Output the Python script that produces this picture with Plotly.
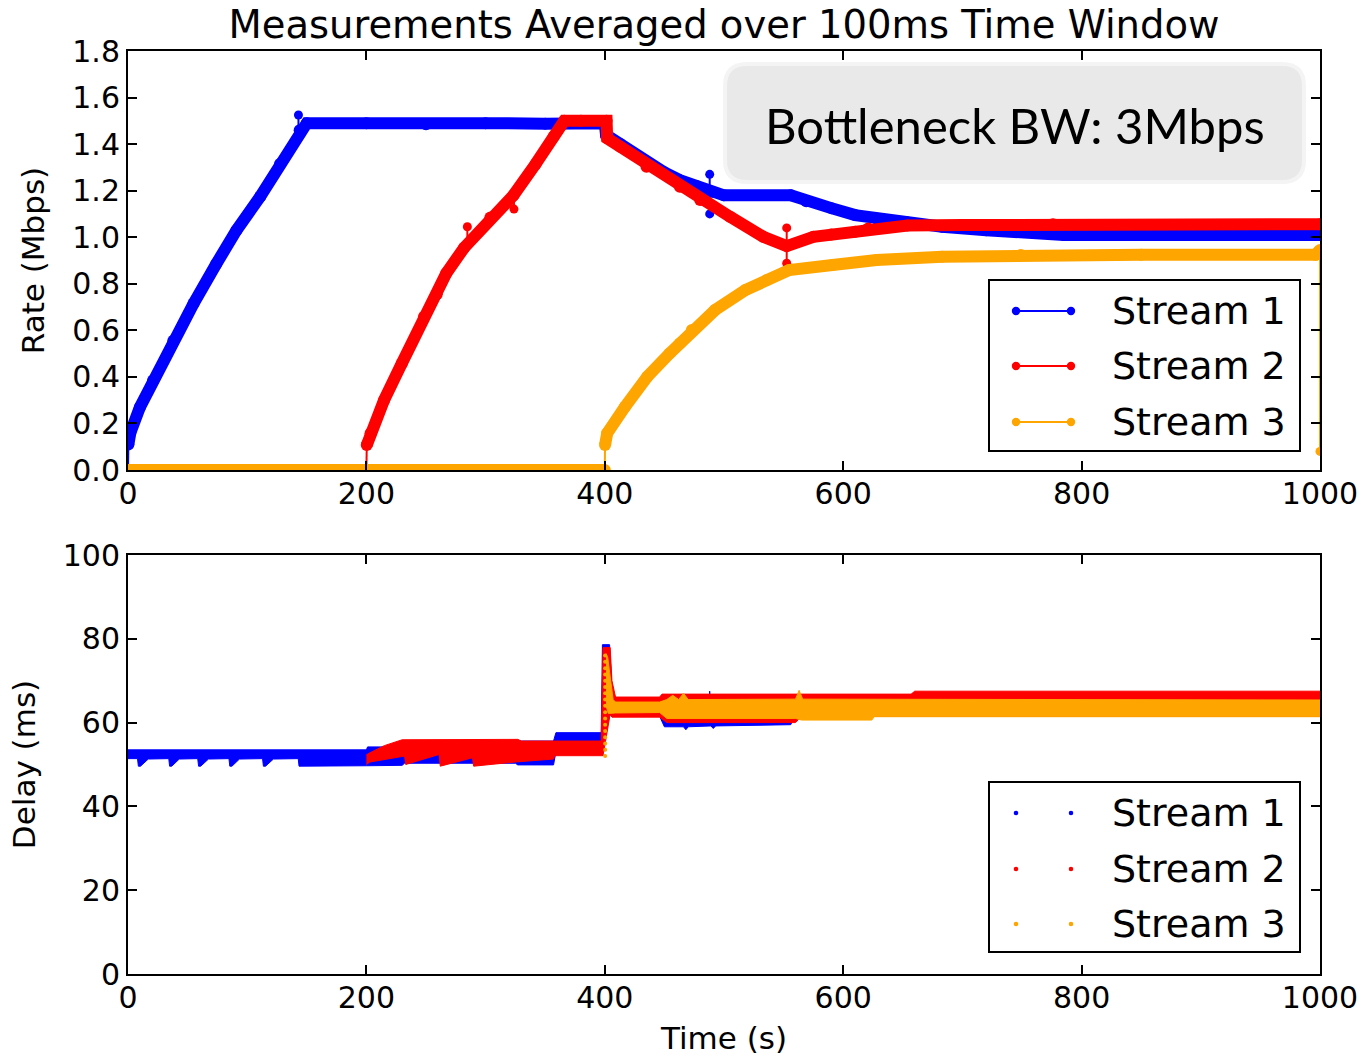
import plotly.graph_objects as go

# ---------------------------------------------------------------- data
BLUE, RED, ORANGE = "#0000ff", "#ff0000", "#ffa500"
STREAM_NAMES = ["Stream 1", "Stream 2", "Stream 3"]

X_TICKS = [0, 200, 400, 600, 800, 1000]
RATE_TICKS = [0.0, 0.2, 0.4, 0.6, 0.8, 1.0, 1.2, 1.4, 1.6, 1.8]
DELAY_TICKS = [0, 20, 40, 60, 80, 100]

# Rate (Mbps), 100 ms averages
S1_T = [0.3, 2, 10, 21, 38, 55, 74, 91, 111, 127.5, 144, 150, 200, 250, 300, 350,
        400, 401, 413, 435, 449.5, 463, 477, 490, 500, 556, 569, 590, 610, 628,
        653, 683, 720, 775, 785, 1000]
S1_RATE = [0.11, 0.16, 0.27, 0.385, 0.555, 0.715, 0.885, 1.03, 1.175, 1.315, 1.46,
           1.49, 1.49, 1.485, 1.49, 1.488, 1.49, 1.44, 1.40, 1.32, 1.28, 1.245,
           1.22, 1.195, 1.18, 1.18, 1.155, 1.125, 1.095, 1.08, 1.065, 1.045, 1.03,
           1.018, 1.01, 1.01]
S1_START_T = [0, 0.3]
S1_START_RATE = [0.0, 0.11]
S1_SPIKE_T = [143, 488, 488]
S1_SPIKE_BASE = [1.46, 1.20, 1.20]
S1_SPIKE_TIP = [1.525, 1.27, 1.10]

S2_ZERO_T = [0, 200]
S2_ZERO_RATE = [0.0, 0.0]
S2_START_T = [200, 200.3]
S2_START_RATE = [0.0, 0.107]
S2_T = [200.3, 203.5, 214.8, 229.7, 248.3, 259, 267, 282, 304, 323.3, 342, 357,
        366, 380, 401.5, 402, 413, 435, 463, 480, 505, 533, 552.6, 575, 590, 610,
        621, 654, 700, 776, 1000]
S2_RATE = [0.107, 0.158, 0.30, 0.458, 0.658, 0.755, 0.845, 0.955, 1.085, 1.18,
           1.315, 1.432, 1.50, 1.50, 1.50, 1.425, 1.389, 1.303, 1.217, 1.16,
           1.088, 1.002, 0.962, 1.002, 1.012, 1.024, 1.038, 1.05, 1.052, 1.056,
           1.056]
S2_SPIKE_T = [284.7, 323.8, 552.6, 552.6]
S2_SPIKE_BASE = [0.965, 1.18, 0.962, 0.962]
S2_SPIKE_TIP = [1.045, 1.121, 1.04, 0.888]

S3_ZERO_T = [0, 400]
S3_ZERO_RATE = [0.0, 0.0]
S3_START_T = [400, 400.2]
S3_START_RATE = [0.0, 0.107]
S3_T = [400.2, 402, 417, 435.7, 454.4, 463, 473, 492.5, 518, 536, 554.6, 591,
        628, 683, 749, 850, 996, 1000]
S3_RATE = [0.107, 0.158, 0.272, 0.401, 0.501, 0.544, 0.601, 0.687, 0.773, 0.816,
           0.859, 0.881, 0.902, 0.916, 0.924, 0.925, 0.925, 0.945]
S3_END_T = [1000, 1000]
S3_END_RATE = [0.945, 0.08]

# Delay (ms): upper / lower envelope of the per-packet delay cloud
S1_DU_T = [0, 200, 201, 230, 232, 325, 327, 357, 359, 397, 398, 404, 406, 409,
           487, 488, 489, 1000]
S1_DU = [53.5, 53.5, 54.2, 54.2, 53.5, 53.5, 55.6, 55.6, 57.6, 57.6, 78.6, 78.6,
         68.0, 63.5, 63.5, 67.5, 63.5, 63.5]
S1_DL_T = [0, 8, 8.7, 10.5, 17, 34.2, 34.9, 36.7, 43, 58.5, 59.2, 61, 67.5, 84.7,
           85.4, 87.2, 93.5, 112.9, 113.6, 115.4, 122, 142.8, 143.5, 145, 200, 230,
           232, 325, 327, 357, 359, 397, 398, 404, 406, 409, 446, 450, 466, 468,
           470, 489, 491, 493, 556, 560, 1000]
S1_DL = [51.4, 51.4, 49.6, 49.6, 51.3, 51.4, 49.6, 49.6, 51.3, 51.4, 49.6, 49.6,
         51.3, 51.4, 49.6, 49.6, 51.3, 51.4, 49.6, 49.6, 51.3, 51.4, 49.6, 49.6,
         49.7, 49.8, 50.3, 50.3, 49.9, 49.9, 53.0, 53.0, 54.0, 62.0, 61.5, 61.5,
         61.5, 59.0, 59.0, 58.3, 59.0, 59.2, 58.6, 59.2, 59.5, 62.0, 62.0]

S2_DU_T = [200, 203, 215, 230, 327, 330, 397, 398.5, 404.5, 406, 409, 446, 448,
           657, 660, 1000]
S2_DU = [52.3, 52.8, 54.5, 55.9, 56.0, 55.6, 55.6, 77.9, 77.9, 70.0, 66.1, 66.1,
         66.8, 66.8, 67.5, 67.5]
S2_DL_T = [200, 203, 232, 233, 261, 262, 289, 290, 325, 357, 358, 397, 398.5,
           404.5, 406, 446, 452, 560, 565, 1000]
S2_DL = [50.0, 50.6, 52.0, 50.0, 52.4, 49.6, 51.6, 49.6, 50.6, 51.3, 52.1, 52.1,
         52.1, 62.0, 61.3, 61.3, 60.0, 60.0, 61.5, 61.5]

S3_DU_T = [401, 402.5, 404, 405.5, 407, 409, 446, 452, 457, 462, 466, 470, 560,
           563, 566, 1000]
S3_DU = [76.5, 75.5, 72.0, 68.0, 65.5, 64.9, 64.9, 65.5, 66.5, 65.5, 67.0, 65.5,
         65.6, 67.7, 65.6, 65.4]
S3_DL_T = [401, 403, 409, 446, 452, 560, 565, 624, 626, 1000]
S3_DL = [64.0, 62.2, 62.3, 62.4, 61.0, 61.0, 60.6, 60.6, 61.4, 61.4]
# first packets of stream 3 arriving during the queue build-up
S3_BURST_T = [400.3] * 17
S3_BURST_D = [52.0, 53.5, 55.0, 56.5, 58.0, 59.5, 61.0, 62.5, 64.0, 65.5, 67.0,
              68.5, 70.0, 71.5, 73.0, 74.5, 76.0]

# ---------------------------------------------------------------- layout geometry
FIG_W, FIG_H = 1365, 1056
M_L, M_R, M_T, M_B = 128, 45, 51, 82
PLOT_W = FIG_W - M_L - M_R
PLOT_H = FIG_H - M_T - M_B


def px_x(px):
    return (px - M_L) / PLOT_W


def px_y(py):
    return (FIG_H - M_B - py) / PLOT_H


FONT = "DejaVu Sans"
BAND_W = 12

fig = go.Figure()


def rate_band(t, r, color):
    fig.add_trace(go.Scatter(x=t, y=r, mode="lines+markers", xaxis="x", yaxis="y",
                             line=dict(color=color, width=BAND_W),
                             marker=dict(color=color, size=BAND_W, opacity=1,
                                         line=dict(width=0)),
                             showlegend=False, hoverinfo="skip"))


def rate_thin(t, r, color, tip=True):
    fig.add_trace(go.Scatter(x=t, y=r, mode="lines", xaxis="x", yaxis="y",
                             line=dict(color=color, width=2),
                             showlegend=False, hoverinfo="skip"))
    if tip:
        fig.add_trace(go.Scatter(x=[t[-1]], y=[r[-1]], mode="markers", xaxis="x",
                                 yaxis="y",
                                 marker=dict(color=color, size=9, opacity=1,
                                             line=dict(width=0)),
                                 showlegend=False, hoverinfo="skip"))


def rate_spikes(ts, bases, tips, color):
    for t, b, p in zip(ts, bases, tips):
        rate_thin([t, t], [b, p], color)


# Stream 1
rate_thin(S1_START_T, S1_START_RATE, BLUE, tip=False)
rate_band(S1_T, S1_RATE, BLUE)
rate_spikes(S1_SPIKE_T, S1_SPIKE_BASE, S1_SPIKE_TIP, BLUE)
# Stream 2
rate_band(S2_ZERO_T, S2_ZERO_RATE, RED)
rate_thin(S2_START_T, S2_START_RATE, RED)
rate_band(S2_T, S2_RATE, RED)
rate_spikes(S2_SPIKE_T, S2_SPIKE_BASE, S2_SPIKE_TIP, RED)
# Stream 3
rate_band(S3_ZERO_T, S3_ZERO_RATE, ORANGE)
rate_thin(S3_START_T, S3_START_RATE, ORANGE)
rate_band(S3_T, S3_RATE, ORANGE)
rate_thin(S3_END_T, S3_END_RATE, ORANGE)


def delay_cloud(tu, du, tl, dl, color):
    fig.add_trace(go.Scatter(x=list(tu) + list(tl)[::-1], y=list(du) + list(dl)[::-1],
                             mode="lines", fill="toself", fillcolor=color,
                             line=dict(color=color, width=1),
                             xaxis="x2", yaxis="y2", showlegend=False,
                             hoverinfo="skip"))


delay_cloud(S1_DU_T, S1_DU, S1_DL_T, S1_DL, BLUE)
delay_cloud(S2_DU_T, S2_DU, S2_DL_T, S2_DL, RED)
delay_cloud(S3_DU_T, S3_DU, S3_DL_T, S3_DL, ORANGE)
fig.add_trace(go.Scatter(x=S3_BURST_T, y=S3_BURST_D, mode="markers",
                         marker=dict(color=ORANGE, size=4, opacity=1, line=dict(width=0)),
                         xaxis="x2", yaxis="y2", showlegend=False, hoverinfo="skip"))

# ---------------------------------------------------------------- axes
axis_common = dict(showgrid=False, zeroline=False, showline=True, linecolor="black",
                   linewidth=2, mirror="allticks", ticks="inside", ticklen=9,
                   tickwidth=1.5, tickcolor="black",
                   tickfont=dict(family=FONT, size=30, color="black"))

top_lo = px_y(470)
bot_hi = px_y(555)

fig.update_layout(
    width=FIG_W, height=FIG_H,
    margin=dict(l=M_L, r=M_R, t=M_T, b=M_B, autoexpand=False),
    paper_bgcolor="white", plot_bgcolor="white",
    font=dict(family=FONT, color="black"),
    showlegend=False,
    title=dict(text="Measurements Averaged over 100ms Time Window",
               font=dict(family=FONT, size=38.5, color="black"),
               x=0.5, xref="paper", xanchor="center",
               y=1 - 25 / FIG_H, yref="container", yanchor="middle"),
    xaxis=dict(domain=[0, 1], anchor="y", range=[0, 1000], tickvals=X_TICKS,
               ticklabelstandoff=-4, **axis_common),
    yaxis=dict(domain=[top_lo, 1], anchor="x", range=[0, 1.8], tickvals=RATE_TICKS,
               tickformat=".1f", ticklabelstandoff=0,
               title=dict(text="Rate (Mbps)", standoff=18,
                          font=dict(family=FONT, size=31, color="black")),
               **axis_common),
    xaxis2=dict(domain=[0, 1], anchor="y2", range=[0, 1000], tickvals=X_TICKS,
                ticklabelstandoff=-4,
                title=dict(text="Time (s)", standoff=14,
                           font=dict(family=FONT, size=31, color="black")),
                **axis_common),
    yaxis2=dict(domain=[0, bot_hi], anchor="x2", range=[0, 100], tickvals=DELAY_TICKS,
                ticklabelstandoff=0,
                title=dict(text="Delay (ms)", standoff=18,
                           font=dict(family=FONT, size=31, color="black")),
                **axis_common),
)

# ---------------------------------------------------------------- decorations
shapes = []
annotations = []


def rounded_box(x0, y0, x1, y1, r, color):
    pts = [
        ("M", [(x0 + r, y0)]), ("L", [(x1 - r, y0)]), ("Q", [(x1, y0), (x1, y0 + r)]),
        ("L", [(x1, y1 - r)]), ("Q", [(x1, y1), (x1 - r, y1)]), ("L", [(x0 + r, y1)]),
        ("Q", [(x0, y1), (x0, y1 - r)]), ("L", [(x0, y0 + r)]),
        ("Q", [(x0, y0), (x0 + r, y0)]),
    ]
    path = ""
    for cmd, coords in pts:
        path += cmd + " " + " ".join(f"{px_x(a):.5f},{px_y(b):.5f}" for a, b in coords) + " "
    path += "Z"
    shapes.append(dict(type="path", path=path, xref="paper", yref="paper",
                       fillcolor=color, line=dict(width=0), layer="above"))


# text box with the link capacity
rounded_box(723, 62, 1306, 184, 24, "#f4f4f4")
rounded_box(727, 66, 1302, 180, 20, "#e9e9e9")
annotations.append(dict(text="Bottleneck BW: 3Mbps", x=px_x(1015), y=px_y(125),
                        xref="paper", yref="paper", xanchor="center", yanchor="middle",
                        showarrow=False,
                        font=dict(family="Lato", size=49, color="black")))


def legend_box(x0, y0, x1, y1, rows, colors, with_line, dot_r):
    shapes.append(dict(type="rect", xref="paper", yref="paper",
                       x0=px_x(x0), x1=px_x(x1), y0=px_y(y1), y1=px_y(y0),
                       fillcolor="white", line=dict(color="black", width=2),
                       layer="above"))
    for name, color, yc in zip(STREAM_NAMES, colors, rows):
        if with_line:
            shapes.append(dict(type="line", xref="paper", yref="paper",
                               x0=px_x(1016), x1=px_x(1071), y0=px_y(yc), y1=px_y(yc),
                               line=dict(color=color, width=2), layer="above"))
        for cx in (1016, 1071):
            shapes.append(dict(type="circle", xref="paper", yref="paper",
                               x0=px_x(cx - dot_r), x1=px_x(cx + dot_r),
                               y0=px_y(yc + dot_r), y1=px_y(yc - dot_r),
                               fillcolor=color, line=dict(color=color, width=0),
                               layer="above"))
        annotations.append(dict(text=name, x=px_x(1110), y=px_y(yc), xref="paper",
                                yref="paper", xanchor="left", yanchor="middle",
                                showarrow=False,
                                font=dict(family=FONT, size=38, color="black")))


legend_box(989, 280, 1300, 451, [311, 366, 422], [BLUE, RED, ORANGE], True, 4.2)
legend_box(989, 782, 1300, 952, [813, 869, 924], [BLUE, RED, ORANGE], False, 2.3)

fig.update_layout(shapes=shapes, annotations=annotations)

fig.write_html("out.html")
